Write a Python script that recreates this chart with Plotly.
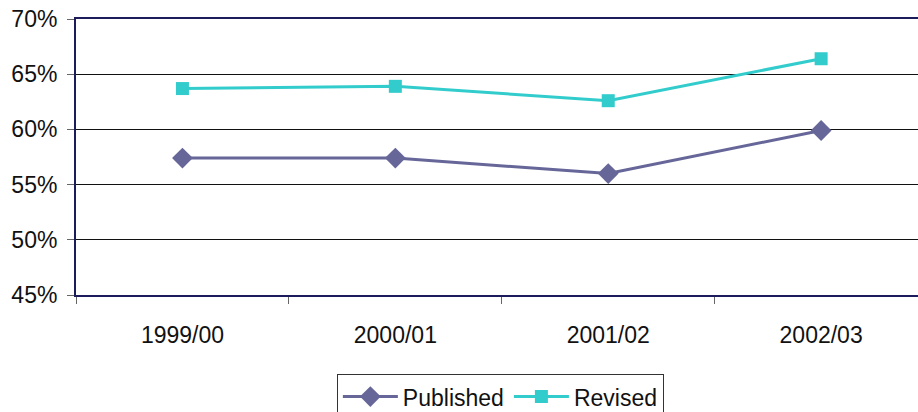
import plotly.graph_objects as go

years = ["1999/00", "2000/01", "2001/02", "2002/03"]
published = [57.4, 57.4, 56.0, 59.9]
revised = [63.7, 63.9, 62.6, 66.4]

y_ticks = [45, 50, 55, 60, 65, 70]
y_tick_labels = ["45%", "50%", "55%", "60%", "65%", "70%"]

font_family = "Liberation Sans, Arial, sans-serif"
navy = "#1c1c5c"

fig = go.Figure()
fig.add_trace(go.Scatter(
    x=years, y=published, name="Published", mode="lines+markers",
    line=dict(color="#666699", width=3),
    marker=dict(symbol="diamond", size=16, color="#666699"),
))
fig.add_trace(go.Scatter(
    x=years, y=revised, name="Revised", mode="lines+markers",
    line=dict(color="#33CCCC", width=3),
    marker=dict(symbol="square", size=13, color="#33CCCC"),
))

fig.update_layout(
    width=918, height=412,
    margin=dict(l=76, r=0, t=19, b=117, autoexpand=False),
    paper_bgcolor="white", plot_bgcolor="white",
    font=dict(family=font_family, size=23, color="#111111"),
    showlegend=True,
    legend=dict(
        orientation="h", x=0.504, xanchor="center",
        yref="container", y=0.092, yanchor="top",
        bgcolor="white", bordercolor="#333333", borderwidth=1,
        font=dict(size=23), itemwidth=55,
    ),
    xaxis=dict(
        type="category", range=[-0.5, 3.455],
        showline=True, linecolor=navy, linewidth=2, mirror=True,
        ticks="outside", tickson="boundaries", ticklen=7, tickcolor="#666666",
        showgrid=False, ticklabelstandoff=18,
    ),
    yaxis=dict(
        range=[45, 70], tickvals=y_ticks, ticktext=y_tick_labels,
        showline=True, linecolor=navy, linewidth=2,
        ticks="outside", ticklen=7, tickcolor="#666666",
        showgrid=True, gridcolor="#111111", gridwidth=1,
        zeroline=False, ticklabelstandoff=5,
    ),
)

fig.write_html("out.html")
